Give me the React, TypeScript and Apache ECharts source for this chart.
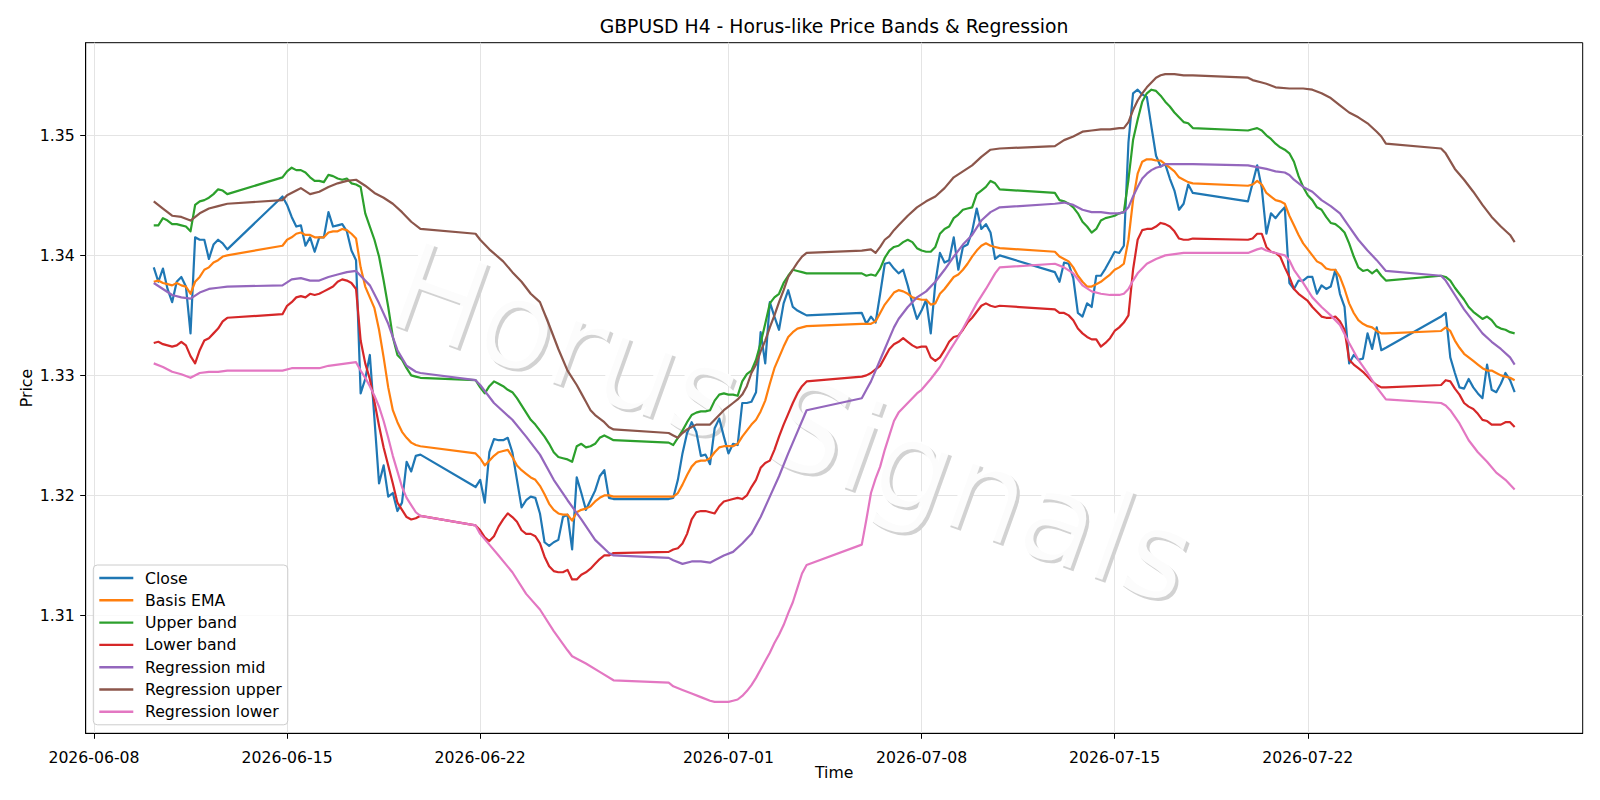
import React, { useEffect, useRef } from "react";
import * as echarts from "echarts";

// H4 trading sessions (UTC): start of each week's data and number of 4-hour bars
const sessionStarts = [
  "2026-06-10T04:00:00Z",
  "2026-06-14T20:00:00Z",
  "2026-06-21T20:00:00Z",
  "2026-06-28T20:00:00Z",
  "2026-07-05T20:00:00Z",
  "2026-07-12T20:00:00Z",
  "2026-07-19T20:00:00Z",
  "2026-07-26T20:00:00Z",
];
const sessionBars = [17, 31, 31, 31, 31, 31, 31, 17];

const closeValues = [
  1.339, 1.3378, 1.3389, 1.3372, 1.3361, 1.3378, 1.3382, 1.3374, 1.3335, 1.3415, 1.3413, 1.3413, 1.3397, 1.3409, 1.3413, 1.341, 1.3405,
  1.3449, 1.3442, 1.3432, 1.3424, 1.3425, 1.3408, 1.3415, 1.3403, 1.3415, 1.3415, 1.3436, 1.3424, 1.3425, 1.3426, 1.342, 1.3404, 1.3396, 1.3285, 1.3297, 1.3317, 1.3264, 1.321, 1.3225, 1.3199, 1.3202, 1.3187, 1.3194, 1.3228, 1.322, 1.3233, 1.3234,
  1.3207, 1.3213, 1.3194, 1.3236, 1.3247, 1.3246, 1.3246, 1.3248, 1.3236, 1.3213, 1.319, 1.3196, 1.3199, 1.3198, 1.3185, 1.3161, 1.3158, 1.3161, 1.3163, 1.3182, 1.3184, 1.3155, 1.3215, 1.3202, 1.3188, 1.3196, 1.3204, 1.3216, 1.3221, 1.3198, 1.3197,
  1.3197, 1.3198, 1.3213, 1.3235, 1.3252, 1.3261, 1.3253, 1.3233, 1.3234, 1.3226, 1.3256, 1.3264, 1.3249, 1.3235, 1.3243, 1.3242, 1.3277, 1.3277, 1.3278, 1.3286, 1.3336, 1.331, 1.3361, 1.3349, 1.3338, 1.336, 1.3371, 1.3357, 1.3354, 1.3352, 1.335,
  1.3352, 1.3343, 1.3349, 1.3344, 1.3368, 1.3393, 1.3394, 1.3389, 1.3385, 1.3388, 1.3375, 1.336, 1.3347, 1.3354, 1.3363, 1.3335, 1.3377, 1.3402, 1.3394, 1.3396, 1.3415, 1.3388, 1.3407, 1.3409, 1.342, 1.3439, 1.3422, 1.3426, 1.3419, 1.3397, 1.34,
  1.3386, 1.3378, 1.3394, 1.3393, 1.3381, 1.3352, 1.3349, 1.336, 1.3357, 1.3383, 1.3383, 1.3389, 1.3396, 1.3403, 1.3402, 1.3408, 1.3494, 1.3535, 1.3538, 1.3534, 1.3532, 1.3507, 1.3483, 1.3474, 1.3476, 1.3464, 1.3454, 1.3438, 1.3443, 1.3459, 1.3452,
  1.3445, 1.346, 1.3475, 1.3456, 1.3418, 1.3435, 1.3431, 1.3436, 1.344, 1.3377, 1.3372, 1.3379, 1.3379, 1.3382, 1.3382, 1.3368, 1.3375, 1.3372, 1.3374, 1.3388, 1.3368, 1.3357, 1.331, 1.3317, 1.3313, 1.3314, 1.3335, 1.3322, 1.334, 1.3321, 1.3323,
  1.3349, 1.3352, 1.3315, 1.3302, 1.329, 1.3289, 1.3297, 1.329, 1.3285, 1.3281, 1.3309, 1.3288, 1.3286, 1.3293, 1.3302, 1.3296, 1.3286,
];

const basisEma = [
  1.3378, 1.3379, 1.3377, 1.3376, 1.3375, 1.3377, 1.3375, 1.3374, 1.3368, 1.3378, 1.3382, 1.3388, 1.339, 1.3394, 1.3396, 1.3399, 1.34,
  1.3408, 1.3413, 1.3415, 1.3418, 1.3419, 1.3417, 1.3417, 1.3415, 1.3415, 1.3415, 1.3419, 1.342, 1.342, 1.3422, 1.3421, 1.3418, 1.3414, 1.339, 1.3374, 1.3365, 1.3356, 1.3338, 1.3315, 1.329, 1.3271, 1.3261, 1.3253, 1.3248, 1.3244, 1.3242, 1.3241,
  1.3235, 1.3231, 1.3225, 1.3229, 1.3233, 1.3236, 1.3237, 1.3238, 1.3232, 1.3225, 1.3221, 1.3218, 1.3215, 1.3213, 1.3208, 1.3201, 1.3193, 1.3188, 1.3185, 1.3184, 1.3184, 1.3179, 1.3186, 1.3188, 1.3189, 1.3191, 1.3195, 1.3198, 1.32, 1.32, 1.3199,
  1.3199, 1.3199, 1.3202, 1.3209, 1.3217, 1.3224, 1.3228, 1.3229, 1.3229, 1.3231, 1.3236, 1.324, 1.3241, 1.3241, 1.3241, 1.3243, 1.3249, 1.3254, 1.3259, 1.3263, 1.327, 1.3279, 1.3293, 1.3306, 1.3315, 1.3324, 1.3332, 1.3336, 1.3339, 1.334, 1.3341,
  1.3343, 1.3343, 1.3343, 1.3345, 1.3352, 1.3359, 1.3364, 1.3369, 1.3371, 1.337, 1.3368, 1.3365, 1.3364, 1.3363, 1.3363, 1.3359, 1.336, 1.3368, 1.3372, 1.3377, 1.3382, 1.3384, 1.3388, 1.3393, 1.3399, 1.3404, 1.3408, 1.341, 1.3408, 1.3407, 1.3406,
  1.3403, 1.3399, 1.3397, 1.3395, 1.339, 1.3383, 1.3378, 1.3374, 1.3374, 1.3376, 1.3378, 1.3381, 1.3384, 1.3388, 1.339, 1.3393, 1.3413, 1.3446, 1.3468, 1.3478, 1.348, 1.348, 1.3479, 1.3479, 1.3476, 1.3473, 1.347, 1.3465, 1.3463, 1.3461, 1.346,
  1.3458, 1.3459, 1.3462, 1.3459, 1.3452, 1.3449, 1.3446, 1.3445, 1.3443, 1.3433, 1.3425, 1.3417, 1.341, 1.3405, 1.34, 1.3395, 1.3393, 1.3389, 1.3388, 1.3388, 1.3382, 1.3372, 1.336, 1.3352, 1.3346, 1.3343, 1.3341, 1.334, 1.3337, 1.3335, 1.3335,
  1.3337, 1.334, 1.3337, 1.3329, 1.3323, 1.3318, 1.3315, 1.3312, 1.3309, 1.3306, 1.3304, 1.3304, 1.3302, 1.33, 1.3299, 1.3298, 1.3296,
];

const upperBand = [
  1.3425, 1.3425, 1.3431, 1.3429, 1.3426, 1.3426, 1.3425, 1.3424, 1.342, 1.3442, 1.3445, 1.3446, 1.3448, 1.3451, 1.3455, 1.3454, 1.3451,
  1.3465, 1.347, 1.3473, 1.3471, 1.3471, 1.3469, 1.3465, 1.3462, 1.3462, 1.3461, 1.3467, 1.3466, 1.3464, 1.3463, 1.3464, 1.346, 1.3459, 1.3457, 1.3435, 1.3424, 1.3413, 1.3399, 1.3379, 1.3357, 1.3332, 1.3317, 1.3313, 1.3306, 1.33, 1.3299, 1.3298,
  1.3296, 1.329, 1.3285, 1.3291, 1.3295, 1.3293, 1.3291, 1.3288, 1.3286, 1.3281, 1.3275, 1.3269, 1.3263, 1.3259, 1.3254, 1.3249, 1.3243, 1.3236, 1.3232, 1.3231, 1.323, 1.3228, 1.3241, 1.3243, 1.324, 1.3241, 1.3243, 1.3248, 1.325, 1.3248, 1.3246,
  1.3244, 1.3242, 1.3248, 1.3254, 1.3261, 1.3267, 1.3269, 1.327, 1.327, 1.3271, 1.3279, 1.3284, 1.3285, 1.3284, 1.3284, 1.3283, 1.3295, 1.3301, 1.3304, 1.3313, 1.3327, 1.3343, 1.336, 1.3365, 1.3368, 1.3377, 1.3383, 1.3388, 1.3387, 1.3386, 1.3385,
  1.3385, 1.3383, 1.3384, 1.3383, 1.3389, 1.3398, 1.3404, 1.3407, 1.3408, 1.3411, 1.3413, 1.3411, 1.3406, 1.3404, 1.3403, 1.3403, 1.3407, 1.3418, 1.3422, 1.3424, 1.3431, 1.3434, 1.3438, 1.3439, 1.344, 1.3451, 1.3454, 1.3457, 1.3462, 1.346, 1.3455,
  1.3452, 1.3446, 1.3445, 1.3443, 1.344, 1.3435, 1.3428, 1.3424, 1.3419, 1.3422, 1.3429, 1.3431, 1.3432, 1.3433, 1.3435, 1.3436, 1.3463, 1.3496, 1.3513, 1.3528, 1.3535, 1.3538, 1.3537, 1.3533, 1.3528, 1.3524, 1.3519, 1.3515, 1.3511, 1.351, 1.3506,
  1.3504, 1.3505, 1.3506, 1.3504, 1.35, 1.3497, 1.3493, 1.349, 1.3488, 1.3485, 1.3478, 1.3466, 1.3457, 1.345, 1.3446, 1.344, 1.3438, 1.3432, 1.3427, 1.3426, 1.3423, 1.3419, 1.341, 1.3399, 1.339, 1.3387, 1.3388, 1.3385, 1.3388, 1.3383, 1.3379,
  1.3383, 1.3382, 1.3379, 1.3373, 1.3368, 1.3363, 1.3357, 1.3353, 1.335, 1.3347, 1.3349, 1.3346, 1.3341, 1.3339, 1.3338, 1.3336, 1.3335,
];

const lowerBand = [
  1.3327, 1.3328, 1.3326, 1.3325, 1.3324, 1.3325, 1.3328, 1.3325, 1.3316, 1.331, 1.3321, 1.3329, 1.3331, 1.3335, 1.3339, 1.3345, 1.3348,
  1.3351, 1.3358, 1.3361, 1.3365, 1.3366, 1.3365, 1.3368, 1.3367, 1.3368, 1.337, 1.3372, 1.3374, 1.3378, 1.338, 1.3379, 1.3377, 1.3372, 1.3329, 1.331, 1.3297, 1.3278, 1.3258, 1.324, 1.3225, 1.321, 1.3194, 1.3188, 1.3182, 1.318, 1.3181, 1.3183,
  1.3175, 1.3171, 1.3165, 1.3162, 1.3166, 1.3174, 1.318, 1.3185, 1.3182, 1.3178, 1.3171, 1.3168, 1.3168, 1.3166, 1.316, 1.3149, 1.3141, 1.3137, 1.3136, 1.3136, 1.3138, 1.313, 1.313, 1.3134, 1.3136, 1.3139, 1.3143, 1.3147, 1.315, 1.315, 1.3152,
  1.3153, 1.3155, 1.3156, 1.316, 1.3168, 1.318, 1.3186, 1.3187, 1.3187, 1.3186, 1.3185, 1.3191, 1.3195, 1.3196, 1.3197, 1.3198, 1.3197, 1.32, 1.3207, 1.3213, 1.3223, 1.3227, 1.3229, 1.3238, 1.3249, 1.3259, 1.3268, 1.3277, 1.3285, 1.3291, 1.3295,
  1.3299, 1.33, 1.3302, 1.3305, 1.3308, 1.3315, 1.3322, 1.3326, 1.3328, 1.3331, 1.3328, 1.3325, 1.3323, 1.3324, 1.3324, 1.3315, 1.3312, 1.3315, 1.3321, 1.3328, 1.3332, 1.3333, 1.3338, 1.3344, 1.3348, 1.3353, 1.3358, 1.336, 1.3358, 1.3357, 1.3358,
  1.3355, 1.3352, 1.3352, 1.335, 1.3346, 1.3339, 1.3335, 1.3332, 1.333, 1.333, 1.3324, 1.3327, 1.3331, 1.3337, 1.334, 1.3344, 1.335, 1.3388, 1.3413, 1.3421, 1.3422, 1.3422, 1.3424, 1.3427, 1.3426, 1.3424, 1.342, 1.3414, 1.3413, 1.3413, 1.3414,
  1.3413, 1.3414, 1.3418, 1.3418, 1.3407, 1.3403, 1.3402, 1.3399, 1.339, 1.3382, 1.3372, 1.3368, 1.3365, 1.3362, 1.3357, 1.3353, 1.3349, 1.3348, 1.3348, 1.3349, 1.3345, 1.3338, 1.3313, 1.3309, 1.3306, 1.3303, 1.3299, 1.3295, 1.3292, 1.329, 1.329,
  1.3292, 1.3296, 1.3295, 1.3289, 1.3284, 1.3277, 1.3274, 1.3272, 1.3268, 1.3263, 1.3262, 1.3259, 1.3259, 1.3259, 1.3261, 1.3261, 1.3257,
];

// Regression channel, read at its vertices ("MM-DD HH", UTC)
const regressionMid: [string, number][] = [
  ["06-10 04", 1.3377], ["06-10 12", 1.3372], ["06-10 20", 1.3367], ["06-11 04", 1.3365], ["06-11 12", 1.3364], ["06-11 20", 1.3369],
  ["06-12 04", 1.3372], ["06-12 12", 1.3373], ["06-12 20", 1.3374], ["06-14 20", 1.3375], ["06-15 04", 1.338], ["06-15 12", 1.3381],
  ["06-15 20", 1.3379], ["06-16 04", 1.3379], ["06-16 12", 1.3382], ["06-16 20", 1.3384], ["06-17 04", 1.3386], ["06-17 12", 1.3387],
  ["06-18 00", 1.3375], ["06-18 08", 1.336], ["06-18 16", 1.3343], ["06-19 00", 1.3321], ["06-19 08", 1.3308], ["06-19 16", 1.3303],
  ["06-19 20", 1.3302], ["06-21 20", 1.3296], ["06-22 00", 1.3292], ["06-22 04", 1.3287], ["06-22 12", 1.3277], ["06-23 04", 1.3263],
  ["06-23 16", 1.3249], ["06-24 04", 1.3234], ["06-24 16", 1.3213], ["06-25 04", 1.3196], ["06-25 16", 1.318], ["06-26 04", 1.3163],
  ["06-26 16", 1.3152], ["06-26 20", 1.315], ["06-28 20", 1.3148], ["06-29 00", 1.3146], ["06-29 08", 1.3143], ["06-29 16", 1.3145],
  ["06-30 00", 1.3145], ["06-30 08", 1.3144], ["06-30 12", 1.3146], ["06-30 20", 1.315], ["07-01 04", 1.3153], ["07-01 12", 1.316],
  ["07-01 20", 1.3168], ["07-02 04", 1.3182], ["07-02 12", 1.3199], ["07-02 20", 1.3216], ["07-03 04", 1.3235], ["07-03 12", 1.3253],
  ["07-03 20", 1.3271], ["07-05 20", 1.3281], ["07-06 00", 1.3288], ["07-06 04", 1.3295], ["07-06 08", 1.3304], ["07-06 12", 1.3313],
  ["07-06 16", 1.3322], ["07-06 20", 1.3331], ["07-07 00", 1.334], ["07-07 04", 1.3347], ["07-07 12", 1.3357], ["07-07 20", 1.3365],
  ["07-08 04", 1.337], ["07-08 12", 1.3378], ["07-08 20", 1.3388], ["07-09 04", 1.3399], ["07-09 12", 1.3409], ["07-09 20", 1.3417],
  ["07-10 04", 1.3429], ["07-10 12", 1.3436], ["07-10 20", 1.344], ["07-12 20", 1.3443], ["07-13 04", 1.3444], ["07-13 12", 1.3442],
  ["07-13 20", 1.3438], ["07-14 04", 1.3436], ["07-14 12", 1.3436], ["07-14 20", 1.3435], ["07-15 04", 1.3435], ["07-15 08", 1.3436],
  ["07-15 12", 1.344], ["07-15 16", 1.3449], ["07-15 20", 1.3457], ["07-16 00", 1.3464], ["07-16 04", 1.3468], ["07-16 08", 1.3471],
  ["07-16 12", 1.3473], ["07-16 16", 1.3474], ["07-16 20", 1.3476], ["07-17 12", 1.3476], ["07-17 20", 1.3476], ["07-19 20", 1.3475],
  ["07-20 12", 1.3472], ["07-20 20", 1.347], ["07-21 04", 1.3469], ["07-21 08", 1.3467], ["07-21 12", 1.3463], ["07-21 20", 1.3457],
  ["07-22 04", 1.3453], ["07-22 12", 1.3446], ["07-22 20", 1.3441], ["07-23 04", 1.3435], ["07-23 12", 1.3424], ["07-23 20", 1.3413],
  ["07-24 04", 1.3404], ["07-24 12", 1.3396], ["07-24 20", 1.3387], ["07-26 20", 1.3383], ["07-27 00", 1.3379], ["07-27 08", 1.3367],
  ["07-27 16", 1.3355], ["07-28 00", 1.3345], ["07-28 08", 1.3335], ["07-28 16", 1.3328], ["07-29 00", 1.3322], ["07-29 08", 1.3315],
  ["07-29 12", 1.3309],
];

const regressionUpper: [string, number][] = [
  ["06-10 04", 1.3445], ["06-10 12", 1.3439], ["06-10 20", 1.3433], ["06-11 04", 1.3432], ["06-11 12", 1.3429], ["06-11 20", 1.3435],
  ["06-12 04", 1.3439], ["06-12 12", 1.3441], ["06-12 20", 1.3443], ["06-14 20", 1.3446], ["06-15 00", 1.345], ["06-15 08", 1.3454],
  ["06-15 12", 1.3456], ["06-15 20", 1.3451], ["06-16 04", 1.3453], ["06-16 12", 1.3457], ["06-16 20", 1.346], ["06-17 04", 1.3462],
  ["06-17 12", 1.3463], ["06-17 20", 1.3458], ["06-18 04", 1.3452], ["06-18 12", 1.3448], ["06-18 20", 1.3443], ["06-19 04", 1.3436],
  ["06-19 12", 1.3428], ["06-19 20", 1.3422], ["06-21 20", 1.3418], ["06-22 00", 1.3413], ["06-22 08", 1.3405], ["06-22 20", 1.3395],
  ["06-23 04", 1.3386], ["06-23 12", 1.3378], ["06-23 20", 1.3368], ["06-24 04", 1.3361], ["06-24 12", 1.3342], ["06-24 20", 1.3322],
  ["06-25 04", 1.3304], ["06-25 12", 1.3292], ["06-25 16", 1.3285], ["06-25 20", 1.3278], ["06-26 00", 1.3271], ["06-26 04", 1.3267],
  ["06-26 08", 1.3264], ["06-26 12", 1.3261], ["06-26 16", 1.3257], ["06-26 20", 1.3255], ["06-28 20", 1.3252], ["06-29 00", 1.325],
  ["06-29 04", 1.3248], ["06-29 08", 1.3252], ["06-29 12", 1.3255], ["06-29 16", 1.3257], ["06-29 20", 1.3259], ["06-30 08", 1.3259],
  ["06-30 12", 1.3263], ["06-30 16", 1.3267], ["06-30 20", 1.3271], ["07-01 00", 1.3274], ["07-01 04", 1.3277], ["07-01 08", 1.328],
  ["07-01 12", 1.3284], ["07-01 16", 1.3291], ["07-01 20", 1.3302], ["07-02 00", 1.3309], ["07-02 04", 1.332], ["07-02 08", 1.3329],
  ["07-02 12", 1.334], ["07-02 16", 1.335], ["07-02 20", 1.3361], ["07-03 00", 1.3371], ["07-03 04", 1.3382], ["07-03 08", 1.3388],
  ["07-03 12", 1.3394], ["07-03 16", 1.3399], ["07-03 20", 1.3402], ["07-05 20", 1.3404], ["07-06 04", 1.3405], ["07-06 08", 1.3402],
  ["07-06 12", 1.3407], ["07-06 16", 1.3413], ["07-06 20", 1.3416], ["07-07 00", 1.3421], ["07-07 04", 1.3425], ["07-07 12", 1.3433],
  ["07-07 20", 1.344], ["07-08 04", 1.3445], ["07-08 12", 1.3449], ["07-08 20", 1.3456], ["07-09 04", 1.3465], ["07-09 12", 1.347],
  ["07-09 20", 1.3475], ["07-10 04", 1.3482], ["07-10 12", 1.3488], ["07-10 20", 1.3489], ["07-12 20", 1.3491], ["07-13 04", 1.3496],
  ["07-13 12", 1.3499], ["07-13 20", 1.3503], ["07-14 04", 1.3504], ["07-14 12", 1.3505], ["07-14 20", 1.3505], ["07-15 04", 1.3506],
  ["07-15 08", 1.3506], ["07-15 12", 1.3511], ["07-15 16", 1.3521], ["07-15 20", 1.3529], ["07-16 00", 1.3535], ["07-16 04", 1.354],
  ["07-16 08", 1.3544], ["07-16 12", 1.3548], ["07-16 16", 1.355], ["07-16 20", 1.3551], ["07-17 04", 1.3551], ["07-17 12", 1.355],
  ["07-17 20", 1.355], ["07-19 20", 1.3548], ["07-20 00", 1.3546], ["07-20 08", 1.3544], ["07-20 12", 1.3543], ["07-20 20", 1.354],
  ["07-21 08", 1.3539], ["07-21 20", 1.3539], ["07-22 04", 1.3538], ["07-22 12", 1.3535], ["07-22 20", 1.3531], ["07-23 04", 1.3525],
  ["07-23 12", 1.3519], ["07-23 20", 1.3515], ["07-24 04", 1.351], ["07-24 12", 1.3503], ["07-24 16", 1.3499], ["07-24 20", 1.3493],
  ["07-26 20", 1.3489], ["07-27 00", 1.3485], ["07-27 08", 1.3472], ["07-27 16", 1.3463], ["07-28 00", 1.3453], ["07-28 08", 1.3442],
  ["07-28 16", 1.3432], ["07-29 00", 1.3424], ["07-29 08", 1.3417], ["07-29 12", 1.3411],
];

const regressionLower: [string, number][] = [
  ["06-10 04", 1.331], ["06-10 12", 1.3307], ["06-10 20", 1.3303], ["06-11 04", 1.3301], ["06-11 12", 1.3298], ["06-11 20", 1.3302],
  ["06-12 04", 1.3303], ["06-12 12", 1.3303], ["06-12 20", 1.3304], ["06-14 20", 1.3304], ["06-15 04", 1.3306], ["06-15 12", 1.3306],
  ["06-15 20", 1.3306], ["06-16 04", 1.3306], ["06-16 12", 1.3308], ["06-16 20", 1.3309], ["06-17 04", 1.331], ["06-17 12", 1.3311],
  ["06-17 16", 1.3304], ["06-17 20", 1.3298], ["06-18 00", 1.3291], ["06-18 04", 1.3283], ["06-18 08", 1.3274], ["06-18 12", 1.3262],
  ["06-18 16", 1.3248], ["06-18 20", 1.3233], ["06-19 00", 1.322], ["06-19 04", 1.3207], ["06-19 08", 1.3198], ["06-19 12", 1.3192],
  ["06-19 16", 1.3186], ["06-19 20", 1.3183], ["06-21 20", 1.3175], ["06-22 00", 1.3168], ["06-22 08", 1.3159], ["06-22 16", 1.315],
  ["06-23 04", 1.3136], ["06-23 16", 1.3118], ["06-24 04", 1.3105], ["06-24 16", 1.3087], ["06-25 04", 1.3071], ["06-25 08", 1.3066],
  ["06-25 20", 1.306], ["06-26 08", 1.3053], ["06-26 20", 1.3046], ["06-28 20", 1.3044], ["06-29 00", 1.3041], ["06-29 08", 1.3038],
  ["06-29 16", 1.3035], ["06-30 00", 1.3032], ["06-30 08", 1.3029], ["06-30 12", 1.3028], ["07-01 00", 1.3028], ["07-01 04", 1.3029],
  ["07-01 08", 1.303], ["07-01 12", 1.3033], ["07-01 16", 1.3037], ["07-01 20", 1.3042], ["07-02 00", 1.3048], ["07-02 04", 1.3055],
  ["07-02 08", 1.3062], ["07-02 12", 1.3069], ["07-02 16", 1.3077], ["07-02 20", 1.3084], ["07-03 00", 1.3092], ["07-03 04", 1.3102],
  ["07-03 08", 1.3111], ["07-03 12", 1.3123], ["07-03 16", 1.3135], ["07-03 20", 1.3142], ["07-05 20", 1.3159], ["07-06 00", 1.318],
  ["07-06 04", 1.3202], ["07-06 08", 1.3214], ["07-06 12", 1.3224], ["07-06 16", 1.3238], ["07-06 20", 1.325], ["07-07 00", 1.3262],
  ["07-07 04", 1.3269], ["07-07 08", 1.3273], ["07-07 12", 1.3277], ["07-07 16", 1.3281], ["07-07 20", 1.3285], ["07-08 00", 1.3288],
  ["07-08 08", 1.3297], ["07-08 16", 1.3307], ["07-09 00", 1.332], ["07-09 08", 1.3332], ["07-09 16", 1.3346], ["07-10 00", 1.336],
  ["07-10 08", 1.3372], ["07-10 16", 1.3385], ["07-10 20", 1.339], ["07-12 20", 1.3393], ["07-13 04", 1.339], ["07-13 12", 1.3385],
  ["07-13 20", 1.3375], ["07-14 04", 1.337], ["07-14 12", 1.3368], ["07-14 20", 1.3367], ["07-15 04", 1.3367], ["07-15 08", 1.3368],
  ["07-15 12", 1.3372], ["07-15 16", 1.3379], ["07-15 20", 1.3385], ["07-16 04", 1.3393], ["07-16 12", 1.3397], ["07-16 20", 1.34],
  ["07-17 04", 1.3401], ["07-17 12", 1.3402], ["07-17 20", 1.3402], ["07-19 20", 1.3402], ["07-20 04", 1.3405], ["07-20 08", 1.3406],
  ["07-20 12", 1.3404], ["07-20 20", 1.3402], ["07-21 04", 1.34], ["07-21 08", 1.3396], ["07-21 12", 1.3388], ["07-21 20", 1.3377],
  ["07-22 04", 1.3365], ["07-22 12", 1.3357], ["07-22 20", 1.335], ["07-23 04", 1.3342], ["07-23 12", 1.3327], ["07-23 20", 1.3313],
  ["07-24 04", 1.3302], ["07-24 12", 1.329], ["07-24 20", 1.328], ["07-26 20", 1.3277], ["07-27 00", 1.3275], ["07-27 04", 1.3271],
  ["07-27 12", 1.326], ["07-27 20", 1.3246], ["07-28 04", 1.3236], ["07-28 08", 1.3232], ["07-28 12", 1.3228], ["07-28 20", 1.3219],
  ["07-29 04", 1.3213], ["07-29 12", 1.3205],
];

const xTickLabels = ["2026-06-08", "2026-06-15", "2026-06-22", "2026-07-01", "2026-07-08", "2026-07-15", "2026-07-22"];
const yTickValues = [1.31, 1.32, 1.33, 1.34, 1.35];
const seriesNames = ["Close", "Basis EMA", "Upper band", "Lower band", "Regression mid", "Regression upper", "Regression lower"];
const seriesColors = ["#1f77b4", "#ff7f0e", "#2ca02c", "#d62728", "#9467bd", "#8c564b", "#e377c2"];
const chartTitle = "GBPUSD H4 - Horus-like Price Bands & Regression";
const watermarkText = "Horus Signals";

const FONT = "'DejaVu Sans', 'Liberation Sans', sans-serif";
const H4_MS = 4 * 3600 * 1000;

function buildBarTimes(): number[] {
  const out: number[] = [];
  sessionStarts.forEach((s, i) => {
    const t0 = Date.parse(s);
    for (let k = 0; k < sessionBars[i]; k++) out.push(t0 + k * H4_MS);
  });
  return out;
}

const ts = (s: string) =>
  Date.UTC(2026, Number(s.slice(0, 2)) - 1, Number(s.slice(3, 5)), Number(s.slice(6, 8)));

const pad2 = (n: number) => (n < 10 ? "0" + n : "" + n);
const fmtDate = (v: number) => {
  const d = new Date(v);
  return `${d.getUTCFullYear()}-${pad2(d.getUTCMonth() + 1)}-${pad2(d.getUTCDate())}`;
};

export default function App() {
  const ref = useRef<HTMLDivElement>(null);

  useEffect(() => {
    if (!ref.current) return;
    const chart = echarts.init(ref.current, undefined, { renderer: "svg" });

    const barTimes = buildBarTimes();
    const dense = [closeValues, basisEma, upperBand, lowerBand].map((arr) =>
      barTimes.map((t, i) => [t, arr[i]])
    );
    const sparse = [regressionMid, regressionUpper, regressionLower].map((arr) =>
      arr.map(([s, v]) => [ts(s), v])
    );
    const allData = [...dense, ...sparse];

    const xMinData = barTimes[0];
    const xMaxData = barTimes[barTimes.length - 1];
    const xPad = 0.05 * (xMaxData - xMinData);
    let yLo = Infinity;
    let yHi = -Infinity;
    allData.forEach((d) =>
      d.forEach((p) => {
        yLo = Math.min(yLo, p[1] as number);
        yHi = Math.max(yHi, p[1] as number);
      })
    );
    const yPad = 0.05 * (yHi - yLo);
    const xTicks = xTickLabels.map((s) => Date.parse(s + "T00:00:00Z"));

    const wmRot = -0.345;
    const wmSize = 123;
    const option: any = {
      animation: false,
      backgroundColor: "#ffffff",
      textStyle: { fontFamily: FONT },
      grid: {
        left: 85.7,
        right: 17.3,
        top: 42.7,
        bottom: 66.7,
        show: true,
        borderColor: "#000",
        borderWidth: 1,
        backgroundColor: "transparent",
      },
      graphic: [
        {
          type: "text",
          z: 1,
          x: 795,
          y: 426,
          rotation: wmRot,
          silent: true,
          style: {
            text: watermarkText,
            fontSize: wmSize,
            fontFamily: FONT,
            fill: "#d2d2d2",
            align: "center",
            verticalAlign: "middle",
          },
        },
        {
          type: "text",
          z: 1,
          x: 792,
          y: 423,
          rotation: wmRot,
          silent: true,
          style: {
            text: watermarkText,
            fontSize: wmSize,
            fontFamily: FONT,
            fill: "rgba(255,255,255,0.92)",
            align: "center",
            verticalAlign: "middle",
          },
        },
        {
          type: "text",
          x: 834,
          y: 26,
          silent: true,
          style: {
            text: chartTitle,
            fontSize: 18.8,
            fontFamily: FONT,
            fill: "#000",
            align: "center",
            verticalAlign: "middle",
          },
        },
      ],
      legend: {
        data: seriesNames,
        orient: "vertical",
        left: 93.3,
        top: 565,
        icon: "rect",
        itemWidth: 34,
        itemHeight: 2.4,
        itemGap: 4.3,
        padding: [4, 6, 4, 6],
        backgroundColor: "rgba(255,255,255,0.8)",
        borderColor: "#cccccc",
        borderWidth: 1,
        borderRadius: 4,
        textStyle: { fontSize: 15.7, color: "#000", lineHeight: 18, padding: [0, 0, 0, 6.7], fontFamily: FONT },
      },
      xAxis: {
        type: "value",
        min: xMinData - xPad,
        max: xMaxData + xPad,
        axisLine: { show: true, lineStyle: { color: "#000", width: 1 } },
        axisTick: { show: true, customValues: xTicks, length: 5.5, lineStyle: { color: "#000", width: 1 } },
        axisLabel: {
          customValues: xTicks,
          formatter: (v: number) => fmtDate(v),
          color: "#000",
          fontSize: 15.7,
          margin: 16,
          fontFamily: FONT,
          hideOverlap: false,
          showMinLabel: true,
          showMaxLabel: true,
        },
        splitLine: { show: true, lineStyle: { color: "#e4e4e4", width: 1 } },
        name: "Time",
        nameLocation: "middle",
        nameGap: 31,
        nameMoveOverlap: false,
        nameTextStyle: { color: "#000", fontSize: 15.7, fontFamily: FONT },
      },
      yAxis: {
        type: "value",
        min: yLo - yPad,
        max: yHi + yPad,
        axisLine: { show: true, lineStyle: { color: "#000", width: 1 } },
        axisTick: { show: true, customValues: yTickValues, length: 5.5, lineStyle: { color: "#000", width: 1 } },
        axisLabel: {
          customValues: yTickValues,
          formatter: (v: number) => v.toFixed(2),
          color: "#000",
          fontSize: 15.7,
          margin: 11,
          fontFamily: FONT,
        },
        splitLine: { show: true, lineStyle: { color: "#e4e4e4", width: 1 } },
        name: "Price",
        nameLocation: "middle",
        nameGap: 51,
        nameMoveOverlap: false,
        nameRotate: 90,
        nameTextStyle: { color: "#000", fontSize: 15.7, fontFamily: FONT },
      },
      series: seriesNames.map((name, i) => ({
        name,
        type: "line",
        data: allData[i],
        showSymbol: false,
        symbol: "none",
        silent: true,
        z: 3,
        color: seriesColors[i],
        lineStyle: { width: 2.2, color: seriesColors[i], join: "round" },
        itemStyle: { color: seriesColors[i] },
      })),
    };

    chart.setOption(option);
    return () => chart.dispose();
  }, []);

  return (
    <div
      ref={ref}
      style={{ position: "absolute", left: 0, top: 0, width: 1600, height: 800, background: "#fff" }}
    />
  );
}
